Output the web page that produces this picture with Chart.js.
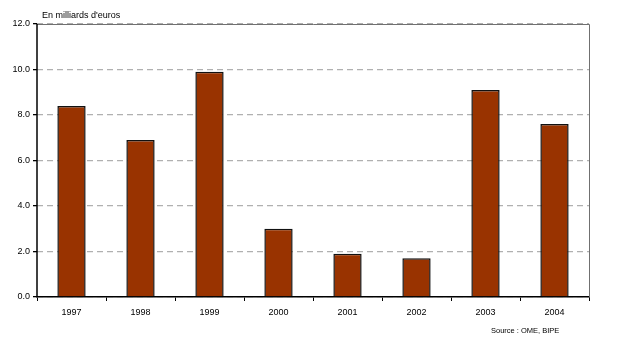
<!DOCTYPE html>
<html>
<head>
<meta charset="utf-8">
<script src="https://cdn.jsdelivr.net/npm/chart.js@4.4.1/dist/chart.umd.min.js"></script>
<style>
  html, body { margin: 0; padding: 0; background: #fff; }
  #wrap { position: relative; width: 618px; height: 356px; }
  canvas { position: absolute; left: 0; top: 0; }
  .lbl { position: absolute; font-family: "Liberation Sans", Arial, sans-serif; color: #000; white-space: nowrap; }
</style>
</head>
<body>
<div id="wrap">
  <canvas id="c" width="618" height="356"></canvas>
  <div class="lbl" style="left:42px; top:10px; font-size:9px;">En milliards d'euros</div>
  <div class="lbl" style="left:491px; top:326px; font-size:7.5px;">Source : OME, BIPE</div>
</div>
<script>
const categories = ["1997", "1998", "1999", "2000", "2001", "2002", "2003", "2004"];
const values = [8.4, 6.9, 9.9, 3.0, 1.9, 1.7, 9.1, 7.6];
const yTicks = [0, 2, 4, 6, 8, 10, 12];

const framePlugin = {
  id: 'frame',
  afterDraw(chart) {
    const { ctx, chartArea: a } = chart;
    ctx.save();
    ctx.setLineDash([]);
    ctx.strokeStyle = '#707070';
    ctx.lineWidth = 1;
    ctx.beginPath();
    ctx.moveTo(a.left, a.top + 0.5);
    ctx.lineTo(a.right + 0.5, a.top + 0.5);
    ctx.lineTo(a.right + 0.5, a.bottom);
    ctx.stroke();
    ctx.strokeStyle = '#000';
    ctx.lineWidth = 1.5;
    ctx.beginPath();
    ctx.moveTo(a.left, a.top);
    ctx.lineTo(a.left, a.bottom);
    ctx.stroke();
    ctx.restore();
  }
};

new Chart(document.getElementById('c'), {
  type: 'bar',
  data: {
    labels: categories,
    datasets: [{
      data: values,
      backgroundColor: '#993300',
      borderColor: '#111',
      borderWidth: 1.5,
      categoryPercentage: 1,
      barPercentage: 0.41
    }]
  },
  options: {
    responsive: false,
    animation: false,
    devicePixelRatio: 1,
    layout: { padding: { left: 0, right: 29, top: 24, bottom: 29 } },
    plugins: { legend: { display: false }, tooltip: { enabled: false } },
    scales: {
      x: {
        afterFit(s) { s.height = 30; },
        grid: { offset: true, drawOnChartArea: false, drawTicks: true, tickLength: 4, color: '#000' },
        border: { color: '#000', width: 1.5 },
        ticks: { color: '#000', font: { family: '"Liberation Sans", Arial, sans-serif', size: 9 }, padding: 6 }
      },
      y: {
        min: 0, max: 12,
        afterFit(s) { s.width = 37; },
        afterBuildTicks(s) { s.ticks = yTicks.map(v => ({ value: v })); },
        grid: { color: '#b0b0b0', lineWidth: 1.3, tickLength: 4, tickBorderDash: [], tickColor: '#000' },
        border: { display: false, dash: [6, 4] },
        ticks: {
          color: '#000',
          font: { family: '"Liberation Sans", Arial, sans-serif', size: 9 },
          padding: 3,
          callback: v => Number(v).toFixed(1)
        }
      }
    }
  },
  plugins: [framePlugin]
});
</script>
</body>
</html>
